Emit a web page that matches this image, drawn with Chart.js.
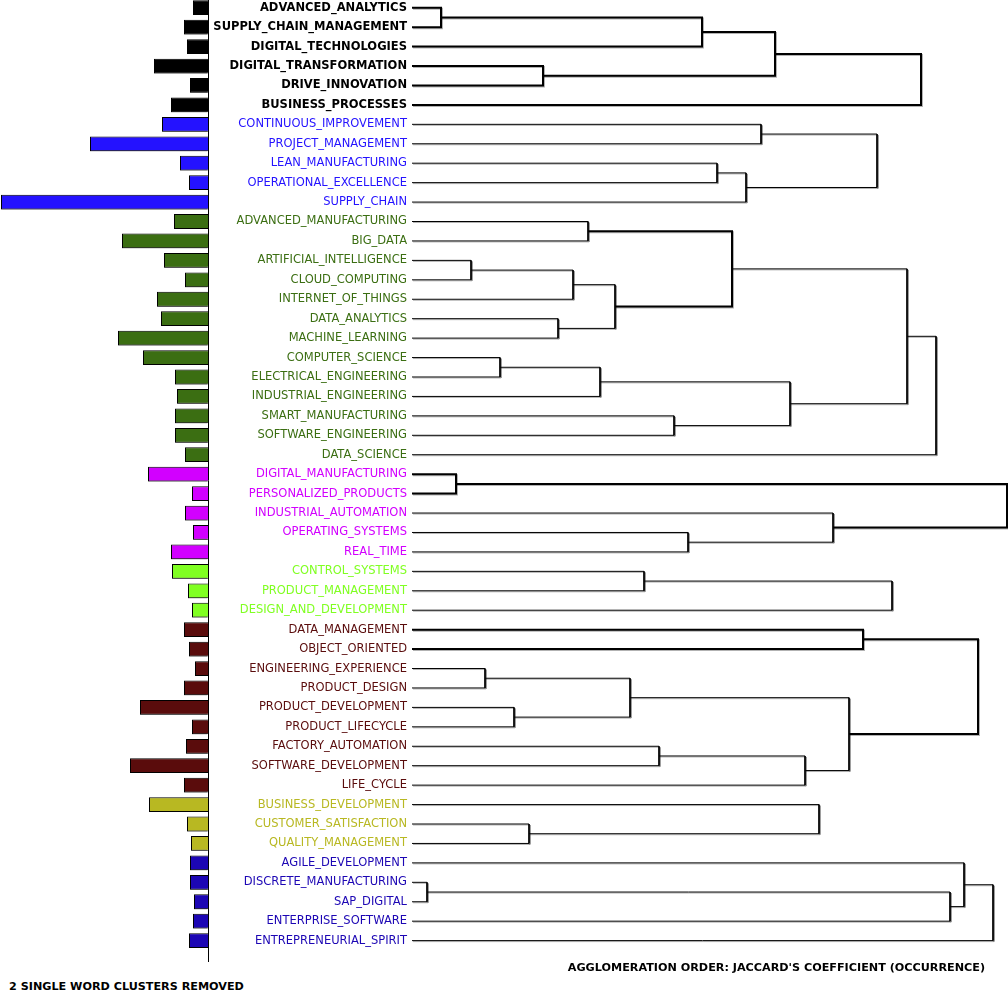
<!DOCTYPE html>
<html>
<head>
<meta charset="utf-8">
<script src="https://cdn.jsdelivr.net/npm/chart.js@4.4.1/dist/chart.umd.min.js"></script>
<style>
  html, body { margin: 0; padding: 0; background: #fff; }
  #page { position: relative; width: 1008px; height: 992px; overflow: hidden; background: #fff; }
  #barChart { position: absolute; left: 0; top: -2px; }
  #treeChart { position: absolute; left: 207px; top: -2px; }
  .note { position: absolute; font-family: "DejaVu Sans", sans-serif; font-weight: bold; font-size: 11.2px; color: #000; white-space: nowrap; }
</style>
</head>
<body>
<div id="page">
  <canvas id="barChart" width="212" height="964"></canvas>
  <canvas id="treeChart" width="801" height="964"></canvas>
  <div class="note" style="left:9px; top:980px;">2 SINGLE WORD CLUSTERS REMOVED</div>
  <div class="note" style="right:23px; top:961px;">AGGLOMERATION ORDER: JACCARD'S COEFFICIENT (OCCURRENCE)</div>
</div>
<script>
// termos (de cima para baixo)
const categories = [
    'ADVANCED_ANALYTICS', 'SUPPLY_CHAIN_MANAGEMENT', 'DIGITAL_TECHNOLOGIES', 'DIGITAL_TRANSFORMATION',
    'DRIVE_INNOVATION', 'BUSINESS_PROCESSES', 'CONTINUOUS_IMPROVEMENT', 'PROJECT_MANAGEMENT',
    'LEAN_MANUFACTURING', 'OPERATIONAL_EXCELLENCE', 'SUPPLY_CHAIN', 'ADVANCED_MANUFACTURING',
    'BIG_DATA', 'ARTIFICIAL_INTELLIGENCE', 'CLOUD_COMPUTING', 'INTERNET_OF_THINGS',
    'DATA_ANALYTICS', 'MACHINE_LEARNING', 'COMPUTER_SCIENCE', 'ELECTRICAL_ENGINEERING',
    'INDUSTRIAL_ENGINEERING', 'SMART_MANUFACTURING', 'SOFTWARE_ENGINEERING', 'DATA_SCIENCE',
    'DIGITAL_MANUFACTURING', 'PERSONALIZED_PRODUCTS', 'INDUSTRIAL_AUTOMATION', 'OPERATING_SYSTEMS',
    'REAL_TIME', 'CONTROL_SYSTEMS', 'PRODUCT_MANAGEMENT', 'DESIGN_AND_DEVELOPMENT',
    'DATA_MANAGEMENT', 'OBJECT_ORIENTED', 'ENGINEERING_EXPERIENCE', 'PRODUCT_DESIGN',
    'PRODUCT_DEVELOPMENT', 'PRODUCT_LIFECYCLE', 'FACTORY_AUTOMATION', 'SOFTWARE_DEVELOPMENT',
    'LIFE_CYCLE', 'BUSINESS_DEVELOPMENT', 'CUSTOMER_SATISFACTION', 'QUALITY_MANAGEMENT',
    'AGILE_DEVELOPMENT', 'DISCRETE_MANUFACTURING', 'SAP_DIGITAL', 'ENTERPRISE_SOFTWARE',
    'ENTREPRENEURIAL_SPIRIT'
];

// ocorrencias (barras da esquerda)
const occurrences = [
    15, 24, 21, 54, 18, 37, 46, 118, 28, 19, 207, 34, 86, 44, 23, 51, 47, 90, 65, 33,
    31, 33, 33, 23, 60, 16, 23, 15, 37, 36, 20, 16, 24, 19, 13, 24, 68, 16, 22, 78,
    24, 59, 21, 17, 18, 18, 14, 15, 19
];

// cluster de cada termo
const clusterOf = [
    0, 0, 0, 0, 0, 0,
    1, 1, 1, 1, 1,
    2, 2, 2, 2, 2, 2, 2, 2, 2, 2, 2, 2, 2,
    3, 3, 3, 3, 3,
    4, 4, 4,
    5, 5, 5, 5, 5, 5, 5, 5, 5,
    6, 6, 6,
    7, 7, 7, 7, 7
];

// dendrograma: numeros = termos, letras = uniões anteriores
const mergeNames  = ['A', 'B', 'C', 'D', 'E', 'F', 'G', 'H', 'I', 'J', 'K', 'L', 'M', 'N',
                     'O', 'P', 'Q', 'R', 'S', 'T', 'U', 'V', 'W', 'X', 'Y', 'Z', 'AA', 'AB',
                     'AC', 'AD', 'AE', 'AF', 'AG', 'AH', 'AI', 'AJ', 'AK', 'AL', 'AM', 'AN', 'AO'];
const mergeLeft   = [0, 'A', 3, 'B', 'D', 6, 8, 'G', 'F', 11, 13, 'K', 16, 'L',
                     'J', 18, 'P', 21, 'Q', 'O', 'T', 24, 27, 26, 'V', 29, 'Z', 32,
                     34, 36, 'AC', 38, 'AF', 'AE', 'AB', 42, 41, 45, 'AL', 44, 'AN'];
const mergeRight  = [1, 2, 4, 'C', 5, 7, 9, 10, 'H', 12, 14, 15, 17, 'M',
                     'N', 19, 20, 22, 'R', 'S', 23, 25, 28, 'W', 'X', 30, 31, 33,
                     35, 37, 'AD', 39, 40, 'AG', 'AH', 43, 'AJ', 46, 47, 'AM', 48];
const mergeHeight = [29, 290, 131, 363, 509, 349, 305, 334, 465, 176, 59, 161, 146, 203,
                     320, 88, 188, 262, 378, 495, 524, 44, 276, 421, 595, 232, 480, 451,
                     73, 102, 218, 247, 393, 437, 566, 117, 407, 15, 538, 552, 581];

const clusterColors = ['#000000', '#2412ff', '#3b6e12', '#d200ff', '#80ff22', '#5a0c0c', '#b8b822', '#1c06b4'];
const thickMerges = ['A', 'B', 'C', 'D', 'E', 'O', 'V', 'Y', 'AB', 'AI'];

const FONT = 'DejaVu Sans';
const Y_MIN = -0.5;
const Y_MAX = 49.1;

// sombra cinza igual ao original
const shadowPlugin = {
    id: 'shadow',
    beforeDatasetsDraw(chart, args, opts) {
        const ctx = chart.ctx;
        ctx.save();
        ctx.shadowColor = opts.color;
        ctx.shadowOffsetX = opts.dx;
        ctx.shadowOffsetY = opts.dy;
        ctx.shadowBlur = 0;
    },
    afterDatasetsDraw(chart) {
        chart.ctx.restore();
    }
};

// gráfico de barras
new Chart(document.getElementById('barChart'), {
    type: 'bar',
    data: {
        datasets: [{
            data: occurrences.map((v, i) => ({ x: v, y: i })),
            backgroundColor: occurrences.map((v, i) => clusterColors[clusterOf[i]]),
            borderColor: '#000',
            borderWidth: 1,
            categoryPercentage: 0.76,
            barPercentage: 1
        }]
    },
    options: {
        indexAxis: 'y',
        responsive: false,
        animation: false,
        layout: { padding: { right: 4, left: 0, top: 0, bottom: 0 } },
        scales: {
            x: { type: 'linear', reverse: true, min: 0, max: 208, display: false },
            y: {
                type: 'linear', reverse: true, min: Y_MIN, max: Y_MAX, position: 'right',
                offset: false,
                ticks: { display: false },
                grid: { display: false, drawTicks: false },
                border: { display: true, color: '#000', width: 1 }
            }
        },
        plugins: {
            legend: { display: false },
            tooltip: { enabled: false },
            shadow: { color: 'rgba(0,0,0,0.35)', dx: -1, dy: 1 }
        }
    },
    plugins: [shadowPlugin]
});

// posições dos nós do dendrograma
const nodeY = {};
const nodeH = {};
const posY = ref => typeof ref === 'number' ? ref : nodeY[ref];
const posH = ref => typeof ref === 'number' ? 0 : nodeH[ref];

const treeDatasets = mergeNames.map((name, k) => {
    const l = mergeLeft[k], r = mergeRight[k], h = mergeHeight[k];
    nodeY[name] = (posY(l) + posY(r)) / 2;
    nodeH[name] = h;
    return {
        data: [
            { x: posH(l), y: posY(l) },
            { x: h, y: posY(l) },
            { x: h, y: posY(r) },
            { x: posH(r), y: posY(r) }
        ],
        showLine: true,
        borderColor: '#000',
        borderWidth: thickMerges.includes(name) ? 2 : 1,
        pointRadius: 0,
        tension: 0
    };
});

const tickCluster = ctx => {
    const i = ctx.tick ? ctx.tick.value : ctx.index;
    return clusterOf[i] !== undefined ? clusterOf[i] : 1;
};

new Chart(document.getElementById('treeChart'), {
    type: 'scatter',
    data: { datasets: treeDatasets },
    options: {
        responsive: false,
        animation: false,
        layout: { padding: 0 },
        scales: {
            x: { type: 'linear', min: 0, max: 596, display: false },
            y: {
                type: 'linear', reverse: true, min: Y_MIN, max: Y_MAX, position: 'left',
                afterBuildTicks: scale => {
                    scale.ticks = categories.map((c, i) => ({ value: i }));
                },
                afterFit: scale => {
                    scale.width = 205;
                    scale.paddingTop = 0;
                    scale.paddingBottom = 0;
                },
                ticks: {
                    autoSkip: false,
                    padding: 5,
                    callback: value => categories[value],
                    color: ctx => clusterColors[tickCluster(ctx)],
                    font: ctx => ({
                        family: FONT,
                        size: 11.5,
                        weight: tickCluster(ctx) === 0 ? 'bold' : 'normal'
                    })
                },
                grid: { display: false, drawTicks: false },
                border: { display: false }
            }
        },
        plugins: {
            legend: { display: false },
            tooltip: { enabled: false },
            shadow: { color: 'rgba(0,0,0,0.3)', dx: 1, dy: 1 }
        }
    },
    plugins: [shadowPlugin]
});
</script>
</body>
</html>
